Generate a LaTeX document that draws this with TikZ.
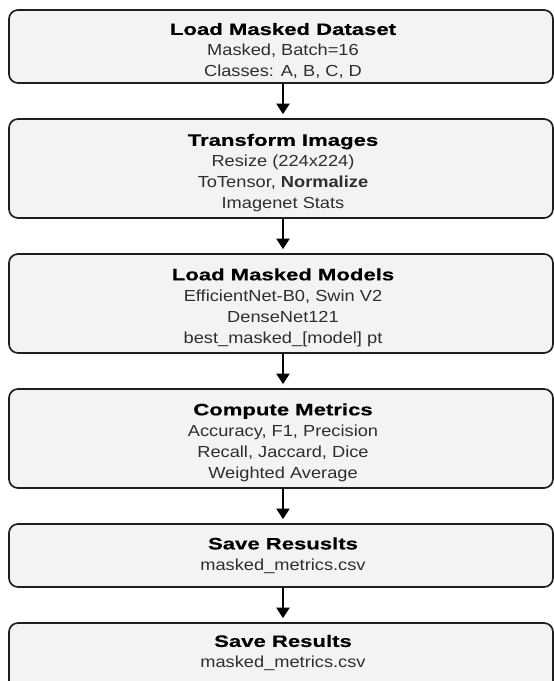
\documentclass[tikz,border=0pt]{standalone}
\usepackage{fontspec}
\setmainfont{Liberation Sans}
\newfontfamily\bodyfont[FakeStretch=1.14]{Liberation Sans}
\newfontfamily\titlefont[FakeStretch=1.34,FakeBold=0.4]{Liberation Sans}
\usetikzlibrary{arrows.meta}
\definecolor{boxfill}{HTML}{F3F3F3}
\definecolor{boxline}{HTML}{1E1E1E}
\definecolor{bodytext}{HTML}{2E2E2E}
\newcommand{\ttl}[1]{{\titlefont\bfseries\fontsize{16.5}{21}\selectfont\color{black}#1}}
\tikzset{
  stepbox/.style={draw=boxline, line width=1.7pt, fill=boxfill, rounded corners=9pt,
    minimum width=544pt, inner sep=0pt},
  steptext/.style={inner sep=0pt, align=center, text=bodytext,
    font=\bodyfont\fontsize{16}{21}\selectfont},
  flow/.style={draw=black, line width=2pt, -{Triangle[width=13pt,length=10.5pt]}, shorten >=4pt}
}
\begin{document}
\begin{tikzpicture}[x=1pt,y=-1pt]
\useasboundingbox (0,0) rectangle (554,681);
\clip (0,0) rectangle (554,681);
\node[stepbox, minimum height=73pt] (b1) at (281,46.5) {};
\node[steptext] (t1) at (283,51)
  {\ttl{Load Masked Dataset}\\Masked, Batch=16\\Classes: A, B, C, D};
\node[stepbox, minimum height=99pt] (b2) at (281,168.5) {};
\node[steptext] (t2) at (283,173)
  {\ttl{Transform Images}\\Resize (224x224)\\ToTensor, \textbf{Normalize}\\Imagenet Stats};
\node[stepbox, minimum height=99pt] (b3) at (281,303.5) {};
\node[steptext] (t3) at (283,307.5)
  {\ttl{Load Masked Models}\\EfficientNet-B0, Swin V2\\DenseNet121\\best\_masked\_[model] pt};
\node[stepbox, minimum height=99pt] (b4) at (281,438.5) {};
\node[steptext] (t4) at (283,442.5)
  {\ttl{Compute Metrics}\\Accuracy, F1, Precision\\Recall, Jaccard, Dice\\Weighted Average};
\node[stepbox, minimum height=63pt] (b5) at (281,555.5) {};
\node[steptext] (t5) at (283,555.5)
  {\ttl{Save Resuslts}\\masked\_metrics.csv};
\node[stepbox, minimum height=80pt] (b6) at (281,663) {};
\node[steptext] (t6) at (283,653)
  {\ttl{Save Results}\\masked\_metrics.csv};
\draw[flow] ([xshift=2pt]b1.south) -- ([xshift=2pt]b2.north);
\draw[flow] ([xshift=2pt]b2.south) -- ([xshift=2pt]b3.north);
\draw[flow] ([xshift=2pt]b3.south) -- ([xshift=2pt]b4.north);
\draw[flow] ([xshift=2pt]b4.south) -- ([xshift=2pt]b5.north);
\draw[flow] ([xshift=2pt]b5.south) -- ([xshift=2pt]b6.north);
\end{tikzpicture}
\end{document}
